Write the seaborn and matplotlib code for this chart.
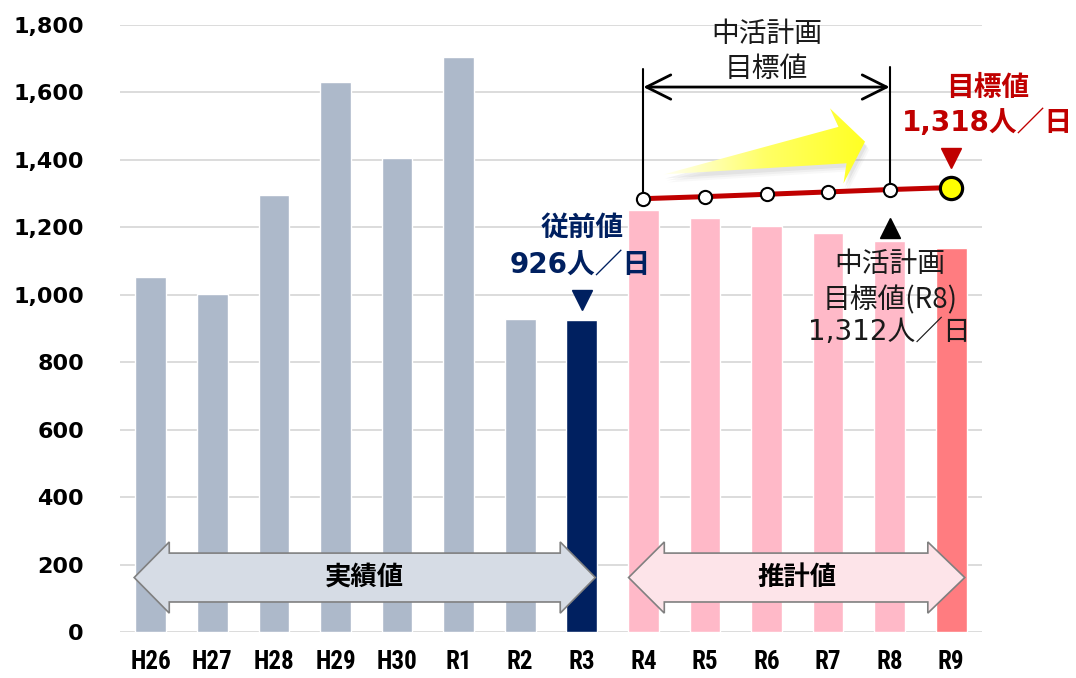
import numpy as np
import pandas as pd
import seaborn as sns
import matplotlib
matplotlib.use("Agg")
import matplotlib.pyplot as plt
from matplotlib.patches import Polygon
from matplotlib.colors import LinearSegmentedColormap
from matplotlib import font_manager

# ---- data ----
years = ['H26', 'H27', 'H28', 'H29', 'H30', 'R1', 'R2', 'R3',
         'R4', 'R5', 'R6', 'R7', 'R8', 'R9']
visitors = [1053, 1002, 1296, 1631, 1405, 1705, 928, 926,
            1251, 1228, 1204, 1183, 1159, 1139]
target_years = ['R4', 'R5', 'R6', 'R7', 'R8', 'R9']
target_values = [1285, 1291, 1298, 1305, 1312, 1318]
y_ticks = [0, 200, 400, 600, 800, 1000, 1200, 1400, 1600, 1800]
bar_colors = ['#ADB9CA'] * 7 + ['#002060'] + ['#FFB9C8'] * 5 + ['#FF7C80']

sns.set_theme(style='white')
plt.rcParams['font.family'] = ['DejaVu Sans', 'Noto Sans CJK JP']

installed = {f.name for f in font_manager.fontManager.ttflist}
narrow = [n for n in ['Roboto Condensed', 'Liberation Sans Narrow',
                      'Open Sans Condensed', 'DejaVu Sans Condensed']
          if n in installed]
xfam = narrow[:1] + ['Noto Sans CJK JP']
xsize = 18 if narrow else 16

fig = plt.figure(figsize=(10.76, 6.78), dpi=100)
ax = fig.add_axes([120 / 1076, 1 - 632 / 678, 862 / 1076, 607 / 678])

df = pd.DataFrame({'year': years, 'visitors': visitors})
sns.barplot(data=df, x='year', y='visitors', hue='year', palette=bar_colors,
            legend=False, width=0.5, saturation=1, ax=ax, zorder=2)

ax.set_ylim(0, 1800)
ax.set_xlim(-0.5, len(years) - 0.5)
ax.set_yticks(y_ticks)
ax.set_yticklabels([f'{v:,}' for v in y_ticks], fontsize=16, fontweight='bold',
                   color='black', family=['DejaVu Sans'])
ax.set_xticks(range(len(years)))
ax.set_xticklabels(years, fontsize=xsize, fontweight='bold', color='black',
                   family=xfam)
ax.tick_params(axis='y', length=0, pad=26)
ax.tick_params(axis='x', length=0, pad=13)
ax.set_xlabel('')
ax.set_ylabel('')
ax.yaxis.grid(True, color='#D9D9D9', lw=1.3, zorder=0)
ax.set_axisbelow(True)
for s in ax.spines.values():
    s.set_visible(False)

# ---- big double arrows ----
def double_arrow(x0, x1, xb0, xb1, face, label):
    ymid_top, ymid_bot, yh_top, yh_bot = 234, 89, 267, 56
    ymid = (yh_top + yh_bot) / 2
    pts = [(x0, ymid), (xb0, yh_top), (xb0, ymid_top), (xb1, ymid_top),
           (xb1, yh_top), (x1, ymid), (xb1, yh_bot), (xb1, ymid_bot),
           (xb0, ymid_bot), (xb0, yh_bot)]
    ax.add_patch(Polygon(pts, closed=True, facecolor=face, edgecolor='#808080',
                         lw=1.2, zorder=5))
    ax.text((x0 + x1) / 2, ymid, label, ha='center', va='center', fontsize=19,
            fontweight='bold', color='black', family=['Noto Sans CJK JP'], zorder=6)

double_arrow(-0.27, 7.22, 0.30, 6.65, '#D6DCE5', '実績値')
double_arrow(7.76, 13.22, 8.34, 12.62, '#FDE4E9', '推計値')

# ---- target line ----
tx = [years.index(y) for y in target_years]
ax.plot(tx, target_values, color='#C00000', lw=3.6, zorder=7, solid_capstyle='butt')
ax.plot(tx[:-1], target_values[:-1], 'o', ms=9.5, mfc='white', mec='black',
        mew=1.5, zorder=8)
ax.plot(tx[-1:], target_values[-1:], 'o', ms=16, mfc='#FFFF00', mec='black',
        mew=2.3, zorder=8)

# ---- yellow gradient arrow ----
yarrow = [(8.33, 1357), (11.17, 1498), (11.03, 1553), (11.60, 1454),
          (11.25, 1330), (11.30, 1390)]
for k, a in enumerate([0.10, 0.07, 0.05]):
    ax.add_patch(Polygon([(x + 0.03 + 0.02 * k, y - 12 - 6 * k) for x, y in yarrow],
                         closed=True, facecolor='#808080', alpha=a, lw=0, zorder=3))
ypoly = Polygon(yarrow, closed=True, facecolor='none', lw=0, zorder=4)
ax.add_patch(ypoly)
cmap = LinearSegmentedColormap.from_list('yl', ['#FFFFF5', '#FFFF66', '#FFFF22'])
grad = np.linspace(0, 1, 256).reshape(1, -1)
im = ax.imshow(grad, cmap=cmap, extent=[8.3, 11.62, 1320, 1560], aspect='auto',
               zorder=4, interpolation='bicubic')
im.set_clip_path(ypoly)
ax.set_xlim(-0.5, len(years) - 0.5)
ax.set_ylim(0, 1800)

# ---- dimension line ----
i4, i8 = years.index('R4'), years.index('R8')
ax.plot([i4, i4], [target_values[0], 1669], color='black', lw=1.5, zorder=6)
ax.plot([i8, i8], [target_values[4], 1675], color='black', lw=1.5, zorder=6)
ax.annotate('', xy=(i4, 1616), xytext=(i8, 1616),
            arrowprops=dict(arrowstyle='<->,head_length=0.7,head_width=0.35',
                            color='black', lw=2, mutation_scale=25,
                            shrinkA=0, shrinkB=0), zorder=6)
ax.text((i4 + i8) / 2, 1772, '中活計画', ha='center', va='center', fontsize=20,
        color='#1a1a1a', family=['Noto Sans CJK JP'])
ax.text((i4 + i8) / 2, 1669, '目標値', ha='center', va='center', fontsize=20,
        color='#1a1a1a', family=['Noto Sans CJK JP'])

# ---- target annotation (R9) ----
i9 = years.index('R9')
ax.text(13.59, 1613, '目標値', ha='center', va='center', fontsize=20,
        fontweight='bold', color='#C00000', family=['Noto Sans CJK JP'], clip_on=False)
ax.text(13.59, 1509, f'{target_values[-1]:,}人／日', ha='center', va='center',
        fontsize=20, fontweight='bold', color='#C00000', clip_on=False)
ax.plot([i9], [1405], 'v', ms=14, color='#C00000', zorder=9)

# ---- previous value (R3) ----
i3 = years.index('R3')
ax.text(i3 + 0.01, 1198, '従前値', ha='center', va='center', fontsize=20,
        fontweight='bold', color='#002060', family=['Noto Sans CJK JP'])
ax.text(i3 - 0.02, 1088, f'{visitors[i3]:,}人／日', ha='center', va='center',
        fontsize=20, fontweight='bold', color='#002060')
ax.plot([i3], [984], 'v', ms=14, color='#002060', zorder=9)

# ---- R8 plan annotation ----
ax.plot([i8], [1198], '^', ms=14, color='black', zorder=9)
ax.text(i8, 1091, '中活計画', ha='center', va='center', fontsize=20,
        color='#1a1a1a', family=['Noto Sans CJK JP'], zorder=9)
ax.text(i8, 984, '目標値(R8)', ha='center', va='center', fontsize=20,
        color='#1a1a1a', family=['Noto Sans CJK JP'], zorder=9)
ax.text(i8, 889, f'{target_values[4]:,}人／日', ha='center', va='center',
        fontsize=20, color='#1a1a1a', zorder=9)

fig.savefig('out.png', dpi=100)
